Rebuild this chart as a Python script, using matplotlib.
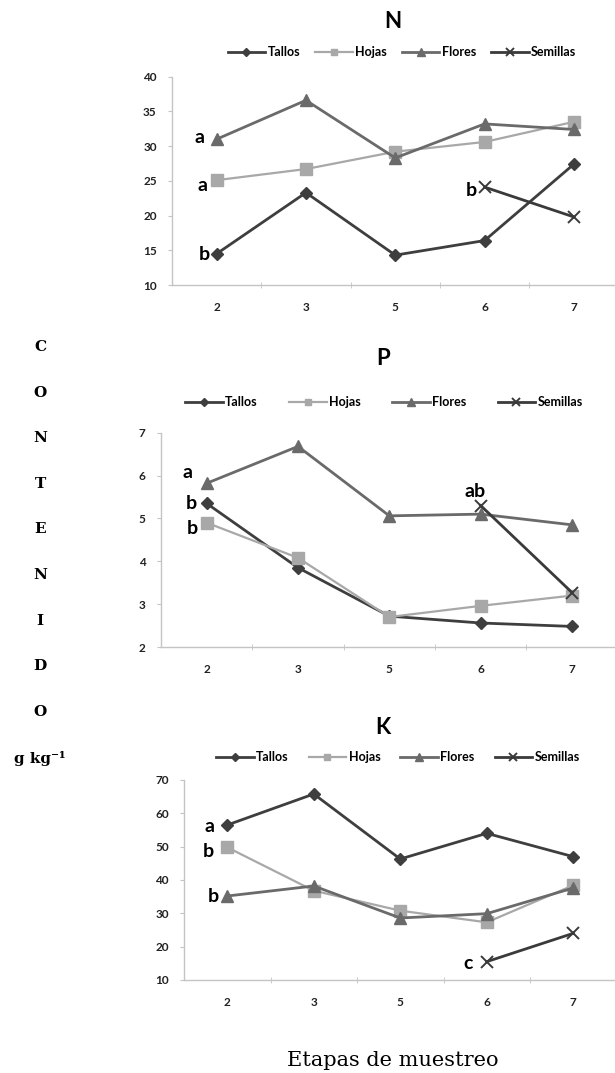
import matplotlib
matplotlib.use('Agg')
import matplotlib.pyplot as plt

etapas = ['2', '3', '5', '6', '7']
organos = ['Tallos', 'Hojas', 'Flores', 'Semillas']

# N (g kg-1)
n_tallos = [14.5, 23.3, 14.3, 16.4, 27.4]
n_hojas = [25.1, 26.7, 29.2, 30.6, 33.5]
n_flores = [31.0, 36.6, 28.3, 33.2, 32.4]
n_semillas = [None, None, None, 24.1, 19.8]

# P (g kg-1)
p_tallos = [5.35, 3.85, 2.72, 2.56, 2.48]
p_hojas = [4.9, 4.08, 2.7, 2.96, 3.2]
p_flores = [5.82, 6.68, 5.06, 5.1, 4.85]
p_semillas = [None, None, None, 5.3, 3.27]

# K (g kg-1)
k_tallos = [56.5, 65.8, 46.3, 54.0, 47.0]
k_hojas = [49.8, 36.8, 30.8, 27.3, 38.4]
k_flores = [35.2, 38.2, 28.6, 29.9, 37.6]
k_semillas = [None, None, None, 15.5, 24.0]

estilos = {
    'Tallos': dict(color='#3e3e3e', marker='D', markersize=6.5, lw=2.0),
    'Hojas': dict(color='#a8a8a8', marker='s', markersize=8, lw=1.6),
    'Flores': dict(color='#6a6a6a', marker='^', markersize=8.5, lw=2.0),
    'Semillas': dict(color='#3a3a3a', marker='x', markersize=9, lw=2.0, mew=1.4),
}

fig = plt.figure(figsize=(6.15, 10.73), dpi=100)
W, H = 615, 1073


def px_axes(left, right, top, bottom):
    return fig.add_axes([left / W, 1 - bottom / H, (right - left) / W, (bottom - top) / H])


def panel(ax, series, ylim, yticks, title, title_xy, leg_xy, colsp, letras):
    x = list(range(len(etapas)))
    for nombre, valores in zip(organos, series):
        xs = [i for i, v in zip(x, valores) if v is not None]
        ys = [v for v in valores if v is not None]
        ax.plot(xs, ys, label=nombre, **estilos[nombre])
    ax.set_xlim(-0.5, len(etapas) - 0.5)
    ax.set_ylim(*ylim)
    ax.set_yticks(yticks)
    ax.set_xticks(x)
    ax.set_xticklabels(etapas)
    ax.set_xticks([i + 0.5 for i in x[:-1]], minor=True)
    for s in ['top', 'right']:
        ax.spines[s].set_visible(False)
    for s in ['left', 'bottom']:
        ax.spines[s].set_color('#c4c4c4')
        ax.spines[s].set_linewidth(1.0)
    ax.tick_params(axis='x', which='major', length=0, pad=12)
    ax.tick_params(axis='x', which='minor', length=4, color='#c4c4c4', direction='inout')
    ax.tick_params(axis='y', length=3, color='#c4c4c4', pad=8)
    for lab in ax.get_xticklabels() + ax.get_yticklabels():
        lab.set_fontweight('bold')
        lab.set_fontsize(8.5)
        lab.set_color('#222222')
    fig.text(title_xy[0] / W, 1 - title_xy[1] / H, title, ha='center', va='center',
             fontsize=16, fontweight='bold')
    h, l = ax.get_legend_handles_labels()
    fig.legend(h, l, loc='center', bbox_to_anchor=(leg_xy[0] / W, 1 - leg_xy[1] / H),
               ncol=4, frameon=False, handlelength=3.0, handletextpad=0.2,
               columnspacing=colsp, markerscale=0.6,
               prop={'weight': 'bold', 'size': 9})
    for txt, serie, idx, dx, dy in letras:
        ax.annotate(txt, (idx, series[serie][idx]), xytext=(dx, dy),
                    textcoords='offset pixels', ha='center', va='center',
                    fontsize=14, fontweight='bold')
    ax.patch.set_alpha(0)


plt.rcParams['font.family'] = ['Lato', 'DejaVu Sans']

ax_n = px_axes(172, 618.5, 76.7, 285)
panel(ax_n, [n_tallos, n_hojas, n_flores, n_semillas], (10, 40), range(10, 41, 5),
      'N', (393, 22), (402, 52), 1.2,
      [('a', 2, 0, -17, 2), ('a', 1, 0, -14, -5), ('b', 0, 0, -12, -1), ('b', 3, 3, -13, -3)])

ax_p = px_axes(161, 617.7, 432.7, 647)
panel(ax_p, [p_tallos, p_hojas, p_flores, p_semillas], (2, 7), range(2, 8),
      'P', (383, 358), (384, 402), 2.5,
      [('a', 2, 0, -19, 11), ('b', 0, 0, -15, 0), ('b', 1, 0, -14, -6), ('ab', 3, 3, -6, 14)])

ax_k = px_axes(184, 616.5, 780, 980)
panel(ax_k, [k_tallos, k_hojas, k_flores, k_semillas], (10, 70), range(10, 71, 10),
      'K', (383, 727), (398, 757), 1.6,
      [('a', 0, 0, -18, -2), ('b', 1, 0, -19, -4), ('b', 2, 0, -14, -1), ('c', 3, 3, -19, -2)])

letras_eje = ['C', 'O', 'N', 'T', 'E', 'N', 'I', 'D', 'O']
for i, c in enumerate(letras_eje):
    fig.text(40 / W, 1 - (347 + i * 45.6) / H, c, ha='center', va='center',
             family='DejaVu Serif', fontweight='bold', fontsize=11)
fig.text(40 / W, 1 - 758 / H, 'g kg⁻¹', ha='center', va='center',
         family='DejaVu Serif', fontweight='bold', fontsize=11)

fig.text(393 / W, 1 - 1061 / H, 'Etapas de muestreo', ha='center', va='center',
         family='DejaVu Serif', fontsize=15)

fig.savefig('out.png', dpi=100)
